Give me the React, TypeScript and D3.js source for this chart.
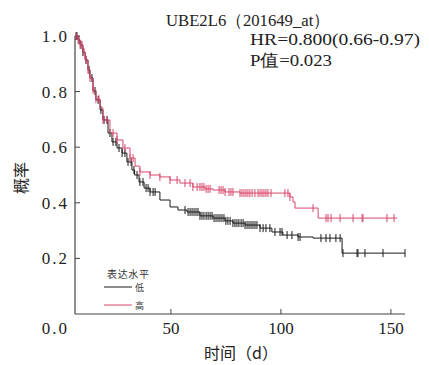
import React, { useEffect, useRef } from "react";
import * as d3 from "d3";

// 生存曲线数据
const lowTimes = [6.4, 7.8, 8.7, 10.0, 11.0, 12.3, 13.2, 14.6, 15.9, 17.8, 19.1, 21.4, 23.2, 25.5, 27.8, 30.0, 32.3, 33.5, 35.5, 37.8, 40.5, 45.0, 49.6, 53.2, 57.3, 63.2, 69.1, 74.6, 78.2, 83.7, 90.5, 95.9, 100.9, 107.8, 114.6, 127.8];
const lowSurv = [1.0, 0.986, 0.968, 0.942, 0.914, 0.878, 0.849, 0.802, 0.77, 0.734, 0.698, 0.651, 0.619, 0.597, 0.579, 0.547, 0.518, 0.5, 0.475, 0.453, 0.439, 0.41, 0.385, 0.374, 0.367, 0.353, 0.345, 0.335, 0.327, 0.32, 0.309, 0.295, 0.284, 0.277, 0.273, 0.219];
const lowEnd = 156.4;

const highTimes = [6.4, 7.8, 8.7, 10.0, 11.0, 12.3, 13.2, 14.6, 15.9, 17.8, 19.1, 22.3, 25.5, 28.2, 31.4, 33.7, 35.9, 40.5, 45.0, 49.6, 54.1, 60.0, 65.5, 69.1, 74.6, 81.4, 104.1, 105.5, 106.4, 116.9];
const highSurv = [1.0, 0.986, 0.968, 0.942, 0.914, 0.878, 0.849, 0.806, 0.773, 0.741, 0.698, 0.651, 0.626, 0.597, 0.561, 0.532, 0.511, 0.5, 0.493, 0.482, 0.471, 0.457, 0.45, 0.446, 0.439, 0.435, 0.421, 0.403, 0.381, 0.345];
const highEnd = 152.8;

// 删失时间
const lowCensor = [6.9, 7.3, 8.2, 9.1, 10.0, 11.4, 12.8, 14.1, 15.5, 16.9, 18.2, 19.6, 21.0, 22.3, 23.7, 25.0, 26.4, 27.8, 29.1, 30.5, 31.9, 33.2, 34.6, 35.9, 37.3, 38.7, 39.6, 40.5, 41.9, 42.8, 56.4, 57.8, 58.7, 59.6, 60.5, 61.4, 62.3, 63.2, 64.1, 65.0, 66.0, 66.9, 67.8, 68.7, 69.6, 70.5, 71.4, 72.3, 73.2, 74.1, 75.0, 75.9, 76.9, 78.2, 79.1, 80.0, 80.9, 81.9, 82.8, 83.7, 84.6, 85.5, 86.4, 87.3, 88.2, 89.1, 90.5, 91.9, 93.2, 95.0, 97.3, 99.6, 100.5, 102.8, 105.0, 107.8, 108.7, 118.2, 120.5, 122.3, 125.0, 126.9, 128.2, 134.6, 135.0, 138.2, 146.4, 156.4];
const highCensor = [6.9, 7.8, 8.7, 9.6, 10.5, 11.4, 12.3, 13.2, 14.6, 15.9, 17.3, 19.1, 20.9, 23.7, 25.5, 29.1, 31.4, 32.8, 35.9, 40.5, 45.0, 49.6, 52.8, 56.4, 58.7, 60.0, 61.9, 63.2, 64.1, 65.0, 66.0, 66.9, 67.8, 71.9, 72.8, 73.7, 74.6, 76.4, 77.3, 78.2, 81.4, 82.3, 83.2, 84.1, 85.0, 85.9, 86.9, 88.2, 89.6, 90.5, 91.4, 92.3, 93.2, 94.1, 95.5, 101.8, 103.2, 104.1, 114.6, 120.5, 121.4, 122.8, 126.9, 132.8, 136.9, 137.3, 148.2, 151.4];

const yTicks = [0.2, 0.4, 0.6, 0.8, 1.0];
const xTicks = [50, 100, 150];
const lowColor = "#1a1a1a";
const highColor = "#d9476b";

const W = 429;
const H = 365;

const KMChart = () => {
  const ref = useRef(null);

  useEffect(() => {
    const svg = d3.select(ref.current);
    svg.selectAll("*").remove();

    const x = d3.scaleLinear().domain([6.4, 156.4]).range([75, 405]);
    const y = d3.scaleLinear().domain([0, 1]).range([314, 36]);
    const serif = "Liberation Serif, Times New Roman, DejaVu Serif, serif";
    const cjk = "Noto Sans CJK SC, sans-serif";

    // 坐标轴
    const axisColor = "#444";
    svg.append("line").attr("x1", x(6.4)).attr("x2", x(156.4)).attr("y1", y(0)).attr("y2", y(0)).attr("stroke", axisColor).attr("stroke-width", 1.2);
    svg.append("line").attr("x1", x(6.4)).attr("x2", x(6.4)).attr("y1", y(0)).attr("y2", y(1)).attr("stroke", axisColor).attr("stroke-width", 1.2);

    svg.selectAll(".ytick").data(yTicks).enter().append("line")
      .attr("x1", x(6.4)).attr("x2", x(6.4) + 5)
      .attr("y1", (d) => y(d)).attr("y2", (d) => y(d))
      .attr("stroke", axisColor);
    svg.selectAll(".ylab").data(yTicks).enter().append("text")
      .attr("x", 69).attr("y", (d) => y(d)).attr("dy", "0.35em")
      .attr("text-anchor", "end").attr("font-family", serif).attr("font-size", 17)
      .attr("letter-spacing", 2).attr("fill", "#222")
      .text((d) => d.toFixed(1));
    svg.append("text").attr("x", 69).attr("y", 334).attr("text-anchor", "end")
      .attr("font-family", serif).attr("font-size", 17).attr("letter-spacing", 2).attr("fill", "#222").text("0.0");

    svg.selectAll(".xtick").data(xTicks).enter().append("line")
      .attr("x1", (d) => x(d)).attr("x2", (d) => x(d))
      .attr("y1", y(0)).attr("y2", y(0) - 5).attr("stroke", axisColor);
    svg.selectAll(".xlab").data(xTicks).enter().append("text")
      .attr("x", (d) => x(d)).attr("y", 334).attr("text-anchor", "middle")
      .attr("font-family", serif).attr("font-size", 17).attr("fill", "#222")
      .text((d) => d);

    // 轴标题
    svg.append("text").attr("transform", "translate(27,178) rotate(-90)")
      .attr("text-anchor", "middle").attr("font-family", cjk).attr("font-size", 16).attr("fill", "#222").text("概率");
    svg.append("text").attr("x", 241).attr("y", 359).attr("text-anchor", "middle")
      .attr("font-family", cjk).attr("font-size", 16).attr("fill", "#222").text("时间（d）");

    // 标题与统计
    svg.append("text").attr("x", 166).attr("y", 26).attr("font-family", serif).attr("font-size", 17)
      .attr("textLength", 164).attr("lengthAdjust", "spacingAndGlyphs").attr("fill", "#222").text("UBE2L6（201649_at）");
    svg.append("text").attr("x", 250).attr("y", 45).attr("font-family", serif).attr("font-size", 17)
      .attr("textLength", 170).attr("lengthAdjust", "spacingAndGlyphs").attr("fill", "#222").text("HR=0.800(0.66-0.97)");
    svg.append("text").attr("x", 250).attr("y", 66).attr("font-family", serif).attr("font-size", 17)
      .attr("textLength", 82).attr("lengthAdjust", "spacingAndGlyphs").attr("fill", "#222").text("P值=0.023");

    // 生存曲线
    const series = [
      { times: lowTimes, surv: lowSurv, end: lowEnd, censor: lowCensor, color: lowColor },
      { times: highTimes, surv: highSurv, end: highEnd, censor: highCensor, color: highColor },
    ];
    const line = d3.line().x((d) => x(d[0])).y((d) => y(d[1])).curve(d3.curveStepAfter);

    series.forEach((s) => {
      const pts = s.times.map((t, i) => [t, s.surv[i]]);
      pts.push([s.end, s.surv[s.surv.length - 1]]);
      svg.append("path").datum(pts).attr("d", line).attr("fill", "none")
        .attr("stroke", s.color).attr("stroke-width", 1);
      const survAt = (t) => {
        const i = d3.bisectRight(s.times, t) - 1;
        return s.surv[Math.max(0, i)];
      };
      svg.append("g").selectAll("line").data(s.censor).enter().append("line")
        .attr("x1", (d) => x(d)).attr("x2", (d) => x(d))
        .attr("y1", (d) => y(survAt(d)) - 4).attr("y2", (d) => y(survAt(d)) + 4)
        .attr("stroke", s.color).attr("stroke-width", 1);
    });

    // 图例
    svg.append("text").attr("x", 107).attr("y", 278).attr("font-family", cjk).attr("font-size", 10)
      .attr("textLength", 42).attr("fill", "#333").text("表达水平");
    const legend = [
      { label: "低", color: lowColor, yy: 287 },
      { label: "高", color: highColor, yy: 305 },
    ];
    legend.forEach((l) => {
      svg.append("line").attr("x1", 104).attr("x2", 132).attr("y1", l.yy).attr("y2", l.yy).attr("stroke", l.color).attr("stroke-width", 1);
      svg.append("text").attr("x", 135).attr("y", l.yy + 1).attr("dy", "0.35em").attr("font-family", cjk)
        .attr("font-size", 9).attr("fill", "#333").text(l.label);
    });
  }, []);

  return (
    <svg ref={ref} width={W} height={H}
      style={{ position: "absolute", left: 0, top: 0, background: "#fff" }} />
  );
};

export default function App() {
  return <KMChart />;
}
